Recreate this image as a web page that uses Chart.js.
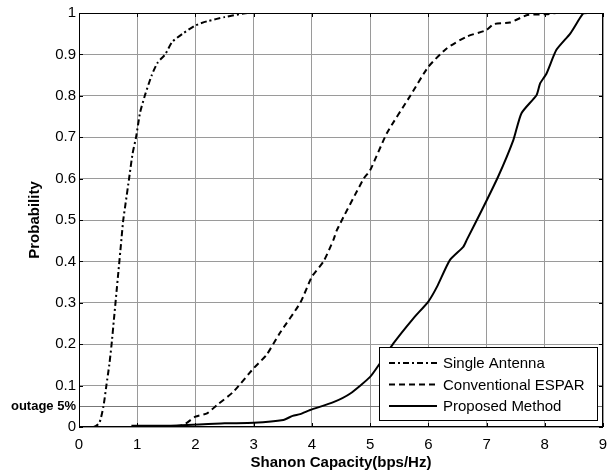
<!DOCTYPE html>
<html>
<head>
<meta charset="utf-8">
<script src="https://cdn.jsdelivr.net/npm/chart.js@4.4.0/dist/chart.umd.min.js"></script>
<style>
  html, body { margin: 0; padding: 0; background: #fff; }
  #wrap { width: 609px; height: 472px; }
</style>
</head>
<body>
<div id="wrap"><canvas id="cdf" width="609" height="472"></canvas></div>
<script>
// values
var seriesNames = ["Single Antenna", "Conventional ESPAR", "Proposed Method"];

var singleX = [0, 0.25, 0.35, 0.42, 0.47, 0.52, 0.56, 0.6, 0.64, 0.68, 0.72, 0.76, 0.8, 0.86, 0.92, 0.98, 1.05, 1.13, 1.25, 1.35, 1.48, 1.6, 1.78, 2.0, 2.2, 2.5, 2.9, 3.8];
var singleY = [0, 0, 0.01, 0.05, 0.1, 0.15, 0.2, 0.26, 0.32, 0.38, 0.44, 0.5, 0.54, 0.6, 0.66, 0.7, 0.76, 0.8, 0.85, 0.88, 0.9, 0.93, 0.95, 0.97, 0.98, 0.99, 1.0, 1.0];

var esparX = [1.5, 1.79, 2.0, 2.2, 2.37, 2.65, 3.0, 3.22, 3.45, 3.8, 4.0, 4.2, 4.37, 4.43, 4.89, 5.0, 5.29, 5.69, 6.0, 6.32, 6.66, 7.0, 7.12, 7.4, 7.7, 8.03, 8.2, 8.7];
var esparY = [0, 0.005, 0.025, 0.033, 0.053, 0.085, 0.142, 0.174, 0.227, 0.3, 0.363, 0.4, 0.452, 0.476, 0.6, 0.62, 0.71, 0.8, 0.87, 0.915, 0.943, 0.959, 0.973, 0.977, 0.995, 0.997, 1.0, 1.0];

var propX = [0.9, 1.5, 2.5, 3.0, 3.51, 3.67, 3.8, 3.97, 4.37, 4.66, 5.0, 5.17, 5.4, 5.74, 6.0, 6.15, 6.37, 6.6, 6.66, 6.92, 7.2, 7.46, 7.6, 7.86, 7.92, 8.03, 8.2, 8.44, 8.66, 8.75, 9.0];
var propY = [0.003, 0.003, 0.009, 0.01, 0.017, 0.027, 0.031, 0.041, 0.06, 0.081, 0.121, 0.154, 0.202, 0.262, 0.303, 0.339, 0.403, 0.435, 0.452, 0.524, 0.605, 0.693, 0.758, 0.802, 0.83, 0.854, 0.911, 0.951, 0.999, 1.0, 1.0];

var xTicks = [0, 1, 2, 3, 4, 5, 6, 7, 8, 9];
var yTicks = [0, 0.05, 0.1, 0.2, 0.3, 0.4, 0.5, 0.6, 0.7, 0.8, 0.9, 1];
var outageLevel = 0.05;
var outageLabel = "outage 5%";

function pts(xs, ys) {
  var out = [];
  for (var i = 0; i < xs.length; i++) out.push({ x: xs[i], y: ys[i] });
  return out;
}

var FONT = "Liberation Sans, Arial, sans-serif";

// box, inward ticks and legend drawn over the plot
var boxPlugin = {
  id: "box",
  afterDatasetsDraw: function(chart) {
    var c = chart.ctx, a = chart.chartArea;
    var xs = chart.scales.x, ys = chart.scales.y;
    c.save();
    c.strokeStyle = "#000";
    c.lineWidth = 1;
    c.beginPath();
    xTicks.forEach(function(t) {
      var px = Math.round(xs.getPixelForValue(t)) + 0.5;
      c.moveTo(px, a.bottom); c.lineTo(px, a.bottom - 4);
      c.moveTo(px, a.top); c.lineTo(px, a.top + 4);
    });
    yTicks.forEach(function(t) {
      if (t === outageLevel) return;
      var py = Math.round(ys.getPixelForValue(t)) + 0.5;
      c.moveTo(a.left, py); c.lineTo(a.left + 4, py);
      c.moveTo(a.right, py); c.lineTo(a.right - 4, py);
    });
    c.stroke();
    c.strokeRect(a.left + 0.5, a.top + 0.5, a.right - a.left - 1, a.bottom - a.top - 1);

    // legend box
    var lx = 379, ly = 347, lw = 218, lh = 73;
    c.fillStyle = "#fff";
    c.fillRect(lx, ly, lw, lh);
    c.strokeRect(lx + 0.5, ly + 0.5, lw, lh);
    c.font = "15px " + FONT;
    c.textBaseline = "middle";
    chart.data.datasets.forEach(function(ds, i) {
      var yy = ly + 16 + i * 21.5;
      c.strokeStyle = "#000";
      c.lineWidth = 2;
      c.setLineDash(ds.borderDash || []);
      c.beginPath();
      c.moveTo(lx + 10, yy); c.lineTo(lx + 58, yy);
      c.stroke();
      c.setLineDash([]);
      c.fillStyle = "#000";
      c.fillText(ds.label, lx + 64, yy + 1);
    });
    c.restore();
  }
};

new Chart(document.getElementById("cdf"), {
  type: "scatter",
  data: {
    datasets: [
      { label: seriesNames[0], data: pts(singleX, singleY), showLine: true, borderColor: "#000", borderWidth: 2, borderDash: [6, 3, 2, 3], pointRadius: 0, tension: 0.2 },
      { label: seriesNames[1], data: pts(esparX, esparY), showLine: true, borderColor: "#000", borderWidth: 2, borderDash: [6, 4], pointRadius: 0, tension: 0.2 },
      { label: seriesNames[2], data: pts(propX, propY), showLine: true, borderColor: "#000", borderWidth: 2, pointRadius: 0, tension: 0.2 }
    ]
  },
  options: {
    responsive: false,
    animation: false,
    layout: { padding: { top: 13, right: 6, left: 0, bottom: 0 } },
    plugins: { legend: { display: false }, tooltip: { enabled: false } },
    scales: {
      x: {
        type: "linear", min: 0, max: 9,
        afterBuildTicks: function(s) { s.ticks = xTicks.map(function(v) { return { value: v }; }); },
        afterFit: function(s) { s.height = 45; s.paddingLeft = 0; s.paddingRight = 0; },
        grid: { color: "#9a9a9a", drawTicks: false },
        border: { display: false },
        ticks: { color: "#000", padding: 9, font: { family: FONT, size: 15 }, maxRotation: 0 },
        title: { display: true, text: "Shanon Capacity(bps/Hz)", color: "#000", padding: { top: 1, bottom: 0 }, font: { family: FONT, size: 15, weight: "bold" } }
      },
      y: {
        type: "linear", min: 0, max: 1,
        afterBuildTicks: function(s) { s.ticks = yTicks.map(function(v) { return { value: v }; }); },
        afterFit: function(s) { s.width = 79; s.paddingTop = 0; s.paddingBottom = 0; },
        grid: { color: function(ctx) { return ctx.tick && ctx.tick.value === outageLevel ? "#777" : "#9a9a9a"; }, drawTicks: false },
        border: { display: false },
        ticks: {
          color: "#000", padding: 3,
          font: function(ctx) {
            return ctx.tick && ctx.tick.value === outageLevel ? { family: FONT, size: 13, weight: "bold" } : { family: FONT, size: 15 };
          },
          callback: function(v) { return v === outageLevel ? outageLabel : String(v); }
        },
        title: { display: true, text: "Probability", color: "#000", padding: { top: 26, bottom: 0 }, font: { family: FONT, size: 15, weight: "bold" } }
      }
    }
  },
  plugins: [boxPlugin]
});
</script>
</body>
</html>
